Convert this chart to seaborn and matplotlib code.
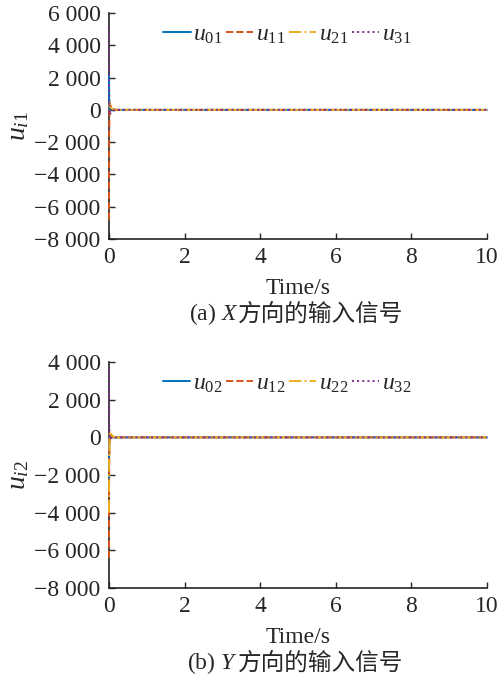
#!/usr/bin/env python3

import numpy as np
import pandas as pd
import matplotlib
matplotlib.use("Agg")
import matplotlib.pyplot as plt
import matplotlib.ticker as mticker
import seaborn as sns

# time samples (s) and control inputs
time_s = [0.0, 0.005, 0.02, 0.05, 0.1, 0.2, 0.4, 10.0]

u01 = [2200, 600, -100, 60, 20, 0, 0, 0]
u11 = [-6800, -1500, 400, 200, 50, 0, 0, 0]
u21 = [300, 200, 300, 150, 40, 0, 0, 0]
u31 = [5100, 1200, -300, -150, -40, 0, 0, 0]

u02 = [-2400, -600, 100, 40, 10, 0, 0, 0]
u12 = [-6400, -1400, 200, 100, 30, 0, 0, 0]
u22 = [-4000, -900, 300, 200, 60, 0, 0, 0]
u32 = [3700, 900, -100, -50, -10, 0, 0, 0]

x_ticks = [0, 2, 4, 6, 8, 10]
y_ticks_x = [6000, 4000, 2000, 0, -2000, -4000, -6000, -8000]
y_ticks_y = [4000, 2000, 0, -2000, -4000, -6000, -8000]

colors = ["#0072BD", "#D95319", "#EDB120", "#7E2F8E"]
styles = ["-", "--", "-.", ":"]

sns.set_style("ticks")
plt.rcParams["font.family"] = ["Liberation Serif", "Noto Sans CJK SC"]
plt.rcParams["mathtext.fontset"] = "custom"
plt.rcParams["mathtext.rm"] = "Liberation Serif"
plt.rcParams["mathtext.it"] = "Liberation Serif:italic"
plt.rcParams["axes.unicode_minus"] = True

FS = 17


def fmt_thousands(v, pos):
    s = f"{abs(v):,.0f}".replace(",", " ")
    return ("\u2212" + s) if v < 0 else s


def draw_panel(ax, series, names, ylabel, yticks, ylim):
    for vals, name, c, ls in zip(series, names, colors, styles):
        df = pd.DataFrame({"t": time_s, "u": vals})
        sns.lineplot(data=df, x="t", y="u", ax=ax, color=c, linestyle=ls,
                     linewidth=1.4, estimator=None, label=name)
    for ln in ax.get_lines():
        ln.set_zorder(3)
        ln.set_clip_on(False)
    ax.set_xlim(0, 10)
    ax.set_ylim(*ylim)
    ax.set_xticks(x_ticks)
    ax.set_yticks(yticks)
    ax.yaxis.set_major_formatter(mticker.FuncFormatter(fmt_thousands))
    ax.tick_params(direction="in", length=4, width=1, labelsize=FS)
    ax.tick_params(axis="y", pad=6)
    ax.tick_params(axis="x", pad=6)
    for side in ["top", "right"]:
        ax.spines[side].set_visible(False)
    for side in ["left", "bottom"]:
        ax.spines[side].set_linewidth(1.2)
        ax.spines[side].set_color("#222222")
    ax.set_xlabel("Time/s", fontsize=FS, labelpad=7)
    ax.set_ylabel(ylabel, fontsize=FS + 3, labelpad=2)
    ax.legend(loc="center", bbox_to_anchor=(0.472, 0.903), ncol=4, frameon=False,
              fontsize=FS, handlelength=1.15, handletextpad=0.12, columnspacing=0.15,
              borderpad=0.1)


fig = plt.figure(figsize=(4.99, 6.78), dpi=100)
ax1 = fig.add_axes([0.2184, 0.6475, 0.7575, 0.3333])
ax2 = fig.add_axes([0.2184, 0.1327, 0.7575, 0.3333])

draw_panel(ax1, [u01, u11, u21, u31],
           ["$u_{01}$", "$u_{11}$", "$u_{21}$", "$u_{31}$"],
           "$u_{i1}$", y_ticks_x, (-8000, 6000))
draw_panel(ax2, [u02, u12, u22, u32],
           ["$u_{02}$", "$u_{12}$", "$u_{22}$", "$u_{32}$"],
           "$u_{i2}$", y_ticks_y, (-8000, 4000))

# captions: latin part and chinese part side by side
split_x = 238 / 499
fig.text(split_x, 1 - 314 / 678, "(a) $X$", ha="right", va="center", fontsize=FS)
fig.text(split_x, 1 - 314 / 678, "方向的输入信号", ha="left", va="center",
         fontsize=FS, family=["Noto Sans CJK SC", "Liberation Serif"])
fig.text(split_x, 1 - 663 / 678, "(b) $Y$", ha="right", va="center", fontsize=FS)
fig.text(split_x, 1 - 663 / 678, "方向的输入信号", ha="left", va="center",
         fontsize=FS, family=["Noto Sans CJK SC", "Liberation Serif"])

fig.savefig("out.png", dpi=100)
plt.close(fig)
